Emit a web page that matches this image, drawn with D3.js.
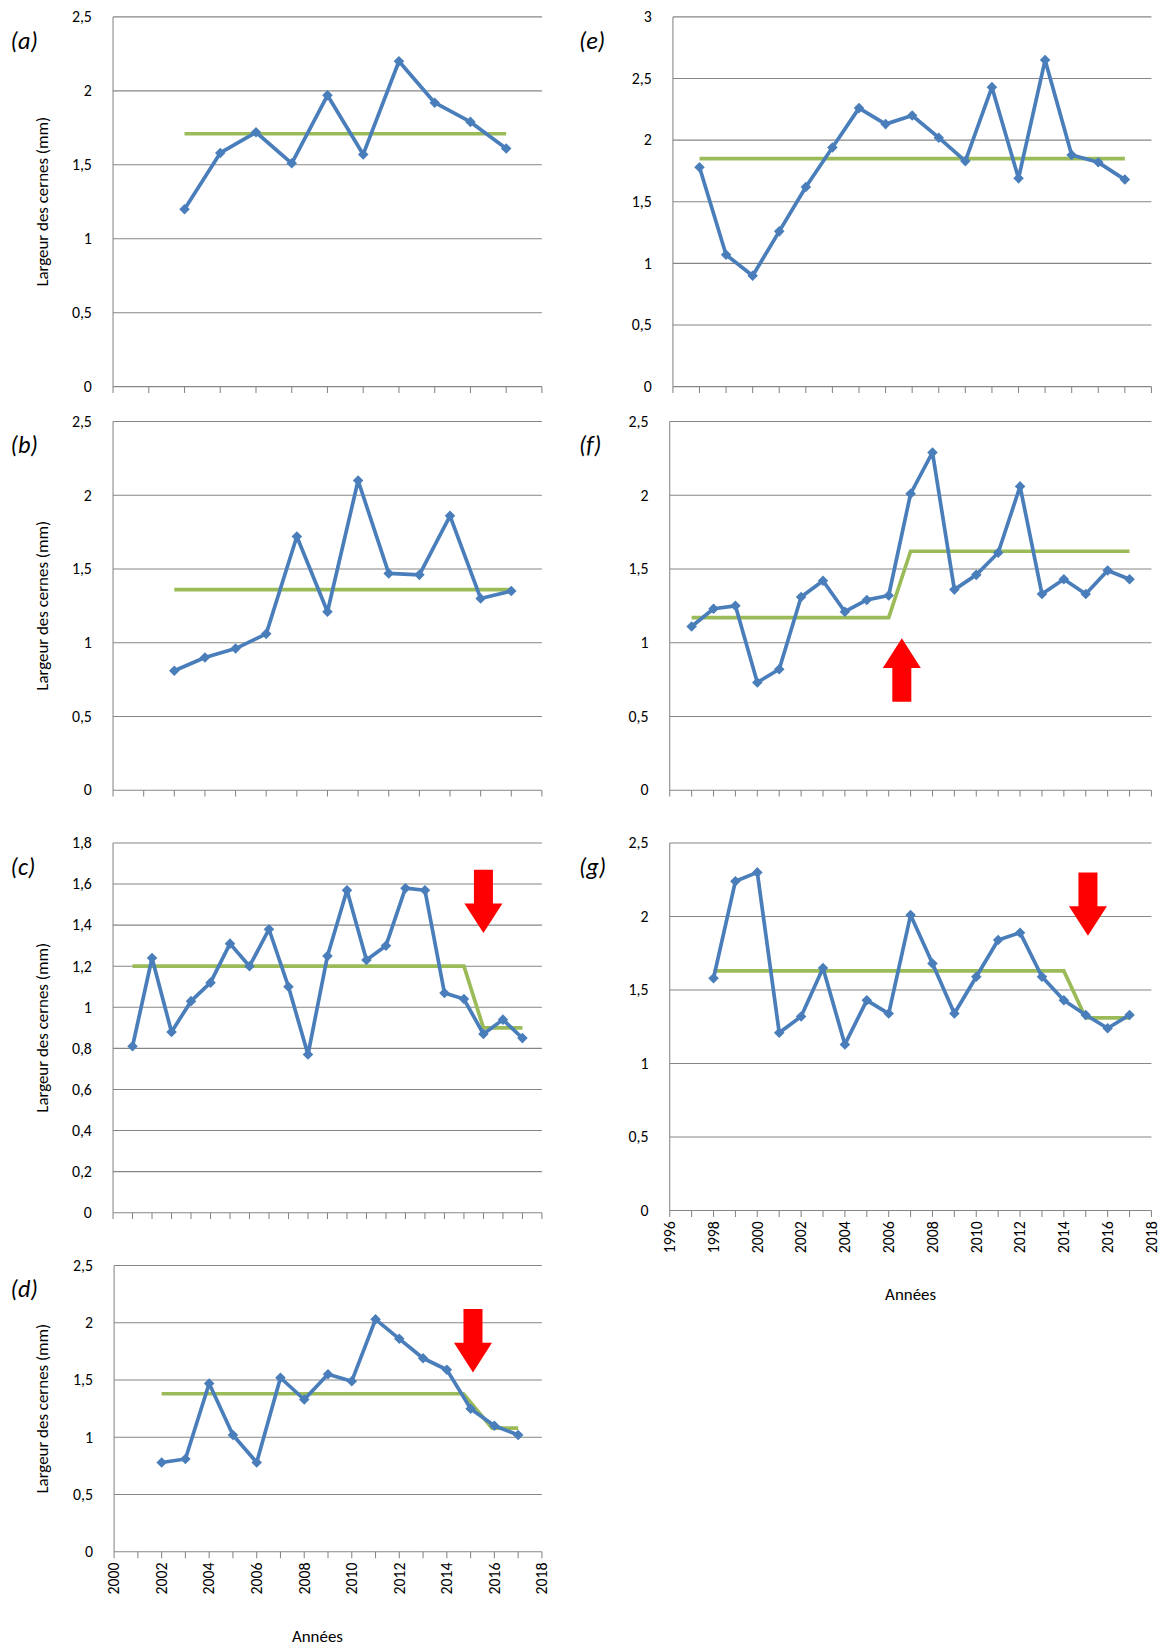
<!DOCTYPE html>
<html><head><meta charset="utf-8">
<script src="https://cdn.jsdelivr.net/npm/d3@7"></script>
<style>body{margin:0;background:#fff}svg{font-family:Calibri,"Open Sans",Arial,sans-serif}</style>
</head><body>
<svg id="chart" width="1162" height="1650"></svg>
<script>
// Values (mm)
const aX = [2, 3, 4, 5, 6, 7, 8, 9, 10, 11];
const aY = [1.2, 1.58, 1.72, 1.51, 1.97, 1.57, 2.2, 1.92, 1.79, 1.61];
const aMean = [[2, 1.71], [11, 1.71]];

const bX = [2, 3, 4, 5, 6, 7, 8, 9, 10, 11, 12, 13];
const bY = [0.81, 0.9, 0.96, 1.06, 1.72, 1.21, 2.1, 1.47, 1.46, 1.86, 1.3, 1.35];
const bMean = [[2, 1.36], [13, 1.36]];

const cX = [1, 2, 3, 4, 5, 6, 7, 8, 9, 10, 11, 12, 13, 14, 15, 16, 17, 18, 19, 20, 21];
const cY = [0.81, 1.24, 0.88, 1.03, 1.12, 1.31, 1.2, 1.38, 1.1, 0.77, 1.25, 1.57, 1.23, 1.3, 1.58, 1.57, 1.07, 1.04, 0.87, 0.94, 0.85];
const cMean = [[1, 1.2], [18, 1.2], [19, 0.9], [21, 0.9]];

const dX = [2002, 2003, 2004, 2005, 2006, 2007, 2008, 2009, 2010, 2011, 2012, 2013, 2014, 2015, 2016, 2017];
const dY = [0.78, 0.81, 1.47, 1.02, 0.78, 1.52, 1.33, 1.55, 1.49, 2.03, 1.86, 1.69, 1.59, 1.25, 1.1, 1.02];
const dMean = [[2002, 1.38], [2014.7, 1.38], [2015.9, 1.08], [2017, 1.08]];

const eX = [1, 2, 3, 4, 5, 6, 7, 8, 9, 10, 11, 12, 13, 14, 15, 16, 17];
const eY = [1.78, 1.07, 0.9, 1.26, 1.62, 1.94, 2.26, 2.13, 2.2, 2.02, 1.83, 2.43, 1.69, 2.65, 1.88, 1.82, 1.68];
const eMean = [[1, 1.85], [17, 1.85]];

const fX = [1997, 1998, 1999, 2000, 2001, 2002, 2003, 2004, 2005, 2006, 2007, 2008, 2009, 2010, 2011, 2012, 2013, 2014, 2015, 2016, 2017];
const fY = [1.11, 1.23, 1.25, 0.73, 0.82, 1.31, 1.42, 1.21, 1.29, 1.32, 2.01, 2.29, 1.36, 1.46, 1.61, 2.06, 1.33, 1.43, 1.33, 1.49, 1.43];
const fMean = [[1997, 1.17], [2006, 1.17], [2007, 1.62], [2017, 1.62]];

const gX = [1998, 1999, 2000, 2001, 2002, 2003, 2004, 2005, 2006, 2007, 2008, 2009, 2010, 2011, 2012, 2013, 2014, 2015, 2016, 2017];
const gY = [1.58, 2.24, 2.3, 1.21, 1.32, 1.65, 1.13, 1.43, 1.34, 2.01, 1.68, 1.34, 1.59, 1.84, 1.89, 1.59, 1.43, 1.33, 1.24, 1.33];
const gMean = [[1998, 1.63], [2014, 1.63], [2015, 1.31], [2017, 1.31]];

const leftYears = [2000, 2002, 2004, 2006, 2008, 2010, 2012, 2014, 2016, 2018];
const rightYears = [1996, 1998, 2000, 2002, 2004, 2006, 2008, 2010, 2012, 2014, 2016, 2018];

const panels = [
  { tag: "(a)", xs: aX, ys: aY, mean: aMean, xd: [0, 12], yMax: 2.5, yStep: 0.5, x0: 107, x1: 513, top: 16, bot: 366, title: true },
  { tag: "(b)", xs: bX, ys: bY, mean: bMean, xd: [0, 14], yMax: 2.5, yStep: 0.5, x0: 107, x1: 513, top: 399, bot: 748, title: true },
  { tag: "(c)", xs: cX, ys: cY, mean: cMean, xd: [0, 22], yMax: 1.8, yStep: 0.2, x0: 107, x1: 513, top: 798, bot: 1148, title: true, arrow: { x: 19, y: 1.67, dir: 1 } },
  { tag: "(d)", xs: dX, ys: dY, mean: dMean, xd: [2000, 2018], yMax: 2.5, yStep: 0.5, x0: 108, x1: 513, top: 1198, bot: 1469, title: true, years: leftYears, arrow: { x: 2015.1, y: 2.12, dir: 1 } },
  { tag: "(e)", xs: eX, ys: eY, mean: eMean, xd: [0, 18], yMax: 3, yStep: 0.5, x0: 637, x1: 1090, top: 16, bot: 366 },
  { tag: "(f)", xs: fX, ys: fY, mean: fMean, xd: [1996, 2018], yMax: 2.5, yStep: 0.5, x0: 634, x1: 1090, top: 399, bot: 748, arrow: { x: 2006.6, y: 0.6, dir: -1 } },
  { tag: "(g)", xs: gX, ys: gY, mean: gMean, xd: [1996, 2018], yMax: 2.5, yStep: 0.5, x0: 634, x1: 1090, top: 798, bot: 1146, years: rightYears, arrow: { x: 2015.1, y: 2.3, dir: 1 } }
];

// layout above was measured on a 1100 px wide view of the reference
const svg = d3.select("#chart").append("g").attr("transform", `scale(${1162 / 1100})`);
const fmt = v => String(+v.toFixed(1)).replace(".", ",");

panels.forEach(p => {
  const x = d3.scaleLinear().domain(p.xd).range([p.x0, p.x1]);
  const y = d3.scaleLinear().domain([0, p.yMax]).range([p.bot, p.top]);
  const g = svg.append("g");
  const yTicks = d3.range(0, p.yMax + 1e-9, p.yStep);

  g.selectAll(".grid").data(yTicks.slice(1)).enter().append("line")
    .attr("x1", p.x0).attr("x2", p.x1)
    .attr("y1", d => y(d)).attr("y2", d => y(d))
    .attr("stroke", "#868686").attr("stroke-width", 1);

  g.append("line").attr("x1", p.x0).attr("x2", p.x0).attr("y1", p.top).attr("y2", p.bot)
    .attr("stroke", "#868686");
  g.selectAll(".yl").data(yTicks).enter().append("text")
    .attr("x", p.x0 - 20).attr("y", d => y(d) + 5)
    .attr("text-anchor", "end").attr("font-size", 15).attr("fill", "#000")
    .text(fmt);

  g.append("line").attr("x1", p.x0).attr("x2", p.x1).attr("y1", p.bot).attr("y2", p.bot)
    .attr("stroke", "#868686");
  g.selectAll(".xt").data(d3.range(p.xd[0], p.xd[1] + 1)).enter().append("line")
    .attr("x1", d => x(d)).attr("x2", d => x(d))
    .attr("y1", p.bot).attr("y2", p.bot + 6)
    .attr("stroke", "#868686");

  if (p.years) {
    g.selectAll(".xl").data(p.years).enter().append("text")
      .attr("transform", d => `translate(${x(d) + 5},${p.bot + 10}) rotate(-90)`)
      .attr("text-anchor", "end").attr("font-size", 15).text(d => d);
    g.append("text").attr("x", (p.x0 + p.x1) / 2 + (p.x0 < 300 ? -10 : 0))
      .attr("y", p.bot + 85).attr("text-anchor", "middle").attr("font-size", 16).text("Années");
  }

  if (p.title) {
    g.append("text")
      .attr("transform", `translate(45,${(p.top + p.bot) / 2}) rotate(-90)`)
      .attr("text-anchor", "middle").attr("font-size", 16).text("Largeur des cernes (mm)");
  }

  g.append("text").attr("x", p.x0 < 300 ? 10 : 548).attr("y", p.top + 30)
    .attr("font-size", 23).attr("font-style", "italic").text(p.tag);

  g.append("path").datum(p.mean)
    .attr("d", d3.line().x(d => x(d[0])).y(d => y(d[1])))
    .attr("fill", "none").attr("stroke", "#9bbb59").attr("stroke-width", 3.5);

  const pts = p.xs.map((v, i) => [v, p.ys[i]]);
  g.append("path").datum(pts)
    .attr("d", d3.line().x(d => x(d[0])).y(d => y(d[1])))
    .attr("fill", "none").attr("stroke", "#4a7ebb").attr("stroke-width", 3.5)
    .attr("stroke-linejoin", "round");
  g.selectAll(".pt").data(pts).enter().append("path")
    .attr("d", "M0,-5L5,0L0,5L-5,0Z")
    .attr("transform", d => `translate(${x(d[0])},${y(d[1])})`)
    .attr("fill", "#4a7ebb");

  if (p.arrow) {
    const ax = x(p.arrow.x), ay = y(p.arrow.y), s = p.arrow.dir;
    const pathA = [[-9, 0], [9, 0], [9, 32], [18, 32], [0, 60], [-18, 32], [-9, 32]]
      .map(q => [ax + q[0], ay + s * q[1]]);
    g.append("path").attr("d", "M" + pathA.join("L") + "Z").attr("fill", "#ff0000");
  }
});
</script>
</body></html>
